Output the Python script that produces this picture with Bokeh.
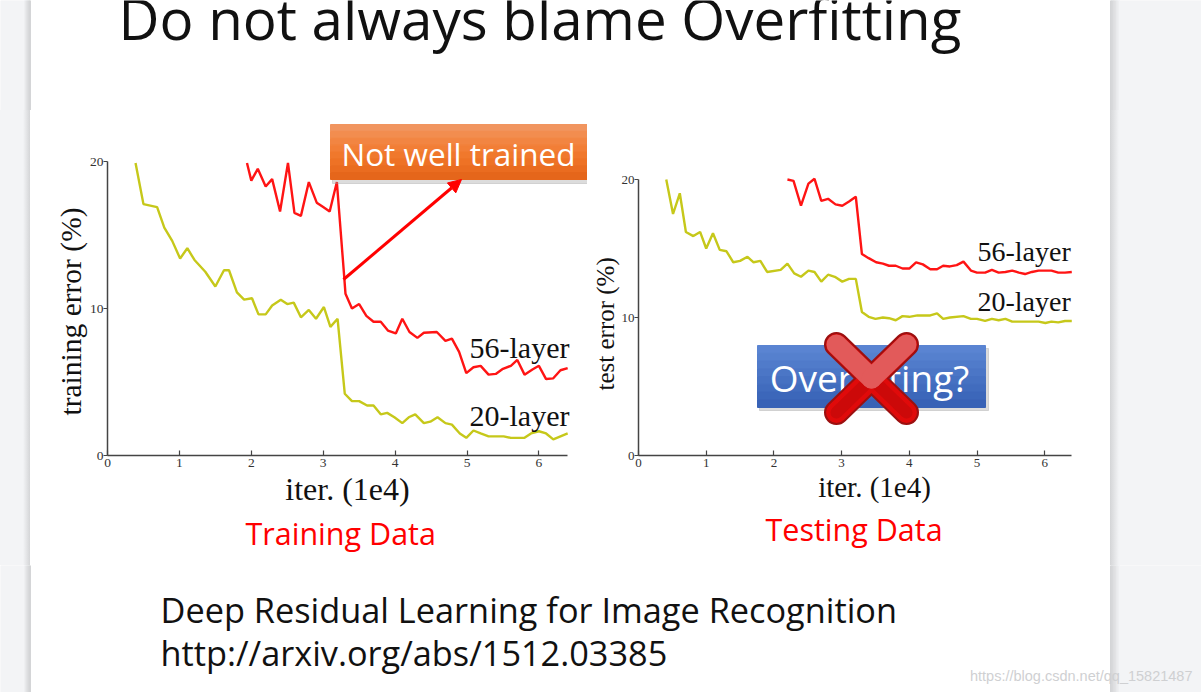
from bokeh.plotting import figure
from bokeh.layouts import column, row
from bokeh.models import Range1d, FixedTicker, Arrow, NormalHead, Title, Div
from bokeh.core.properties import value
from bokeh.embed import file_html
from bokeh.resources import INLINE

# ---------------- data ----------------
x_ticks = [0, 1, 2, 3, 4, 5, 6]
y_ticks = [0, 10, 20]

train20_x = [0.39, 0.50, 0.69, 0.79, 0.90, 1.01, 1.11, 1.21, 1.36, 1.50, 1.62, 1.69, 1.80, 1.90, 2.01, 2.10,
             2.20, 2.29, 2.41, 2.50, 2.59, 2.69, 2.80, 2.90, 3.01, 3.10, 3.20, 3.30, 3.40, 3.50, 3.61, 3.70,
             3.80, 3.89, 3.99, 4.10, 4.19, 4.28, 4.40, 4.49, 4.59, 4.70, 4.79, 4.90, 4.99, 5.09, 5.19, 5.30,
             5.51, 5.61, 5.80, 5.89, 6.00, 6.10, 6.20, 6.30, 6.40]
train20_y = [19.9, 17.1, 16.9, 15.5, 14.6, 13.4, 14.1, 13.3, 12.5, 11.5, 12.6, 12.6, 11.1, 10.6, 10.7, 9.6,
             9.6, 10.2, 10.6, 10.3, 10.4, 9.4, 9.9, 9.3, 10.1, 8.75, 9.3, 4.2, 3.7, 3.7, 3.4, 3.4,
             2.8, 2.9, 2.6, 2.2, 2.6, 2.8, 2.2, 2.3, 2.6, 2.2, 2.1, 1.5, 1.2, 1.7, 1.5, 1.3,
             1.3, 1.2, 1.2, 1.5, 1.65, 1.5, 1.1, 1.3, 1.5]

train56_x = [1.94, 2.00, 2.09, 2.20, 2.29, 2.40, 2.51, 2.60, 2.69, 2.80, 2.91, 3.00, 3.09, 3.19, 3.29, 3.31,
             3.40, 3.50, 3.60, 3.70, 3.80, 3.90, 4.01, 4.10, 4.20, 4.31, 4.40, 4.58, 4.70, 4.79, 4.89, 4.99,
             5.09, 5.19, 5.30, 5.40, 5.50, 5.61, 5.70, 5.80, 5.91, 6.00, 6.10, 6.20, 6.30, 6.40]
train56_y = [19.9, 18.7, 19.5, 18.3, 18.8, 16.6, 19.9, 16.5, 16.3, 18.6, 17.2, 16.9, 16.6, 18.6, 12.3, 11.0,
             10.0, 10.3, 9.5, 9.1, 9.1, 8.5, 8.3, 9.3, 8.4, 8.0, 8.35, 8.4, 7.8, 7.95, 7.05, 5.6,
             6.0, 6.1, 5.5, 5.55, 5.9, 6.1, 6.5, 5.5, 5.85, 6.1, 5.2, 5.25, 5.8, 5.95]

test20_x = [0.41, 0.51, 0.61, 0.70, 0.81, 0.91, 1.00, 1.10, 1.20, 1.30, 1.40, 1.50, 1.61, 1.70, 1.80, 1.90,
            2.10, 2.20, 2.30, 2.40, 2.51, 2.60, 2.70, 2.80, 2.90, 3.01, 3.11, 3.21, 3.30, 3.40, 3.50, 3.61,
            3.70, 3.80, 3.90, 4.00, 4.12, 4.31, 4.41, 4.50, 4.60, 4.80, 4.91, 5.00, 5.12, 5.22, 5.32, 5.42,
            5.52, 5.72, 5.91, 6.01, 6.10, 6.20, 6.30, 6.40]
test20_y = [20.0, 17.5, 19.0, 16.2, 15.9, 16.2, 15.0, 16.1, 14.9, 14.8, 14.0, 14.1, 14.4, 14.0, 14.1, 13.3,
            13.45, 13.9, 13.2, 12.95, 13.4, 13.3, 12.6, 13.1, 12.95, 12.6, 12.8, 12.8, 10.4, 10.05, 9.9, 10.0,
            9.95, 9.8, 10.1, 10.05, 10.15, 10.15, 10.3, 9.9, 10.0, 10.1, 9.9, 9.9, 9.75, 9.9, 9.8, 9.9,
            9.7, 9.7, 9.7, 9.6, 9.7, 9.65, 9.75, 9.75]

test56_x = [2.20, 2.29, 2.40, 2.51, 2.60, 2.70, 2.80, 2.91, 3.01, 3.11, 3.21, 3.30, 3.40, 3.51, 3.61, 3.70,
            3.80, 3.90, 4.00, 4.10, 4.20, 4.31, 4.41, 4.50, 4.60, 4.70, 4.80, 4.91, 5.00, 5.12, 5.22, 5.32,
            5.42, 5.52, 5.62, 5.71, 5.81, 5.91, 6.10, 6.20, 6.30, 6.40]
test56_y = [20.0, 19.9, 18.1, 19.7, 20.05, 18.45, 18.6, 18.2, 18.1, 18.4, 18.75, 14.6, 14.3, 14.0, 13.9, 13.75,
            13.75, 13.55, 13.55, 14.0, 13.85, 13.5, 13.5, 13.75, 13.7, 13.8, 14.05, 13.4, 13.25, 13.25, 13.45, 13.25,
            13.3, 13.4, 13.25, 13.15, 13.3, 13.4, 13.4, 13.25, 13.25, 13.3]

series_names = ["56-layer", "20-layer"]
slide_title = "Do not always blame Overfitting"
captions = ["Training Data", "Testing Data"]
reference = ["Deep Residual Learning for Image Recognition", "http://arxiv.org/abs/1512.03385"]
watermark = "https://blog.csdn.net/qq_15821487"

RED = "#ff1414"
OLIVE = "#c6c81a"
SANS = "Open Sans"
SERIF = "Liberation Serif"
GRAY_BG = "#f3f4f6"
SHADOW_L = ["#eeeff1", "#e8e9eb", "#e2e3e5", "#dddee0", "#d8d9db", "#d4d5d7"]

ROW_TOP = 110
ROW_BOT = 565
ROW_H = ROW_BOT - ROW_TOP
FRAME_BOT = 455
C1_W = 557
C2_LEFT = 30 + C1_W


def blank(width, height, xr, yr, border="white"):
    p = figure(width=width, height=height, x_range=Range1d(*xr), y_range=Range1d(*yr),
               x_axis_type=None, y_axis_type=None, toolbar_location=None, output_backend="svg",
               min_border=0, outline_line_color=None, title=None)
    p.grid.visible = False
    p.background_fill_color = "white"
    p.border_fill_color = border
    return p


def strips(p, y0, y1):
    p.quad(left=0, right=24, top=y0, bottom=y1, color=GRAY_BG)
    for i, c in enumerate(SHADOW_L):
        p.quad(left=24 + i, right=25 + i, top=y0, bottom=y1, color=c)
    for i, c in enumerate(reversed(SHADOW_L)):
        p.quad(left=1110 + 1.5 * i, right=1111.5 + 1.5 * i, top=y0, bottom=y1, color=c)
    p.quad(left=1119, right=1201, top=y0, bottom=y1, color=GRAY_BG)


# ---------------- top (title) ----------------
top = blank(1201, ROW_TOP, (0, 1201), (ROW_TOP, 0))
strips(top, 0, ROW_TOP)
top.text(x=[118], y=[17.5], text=[slide_title], text_font=value(SANS), text_font_size="56.5px",
         text_color="#111111", text_baseline="middle", text_align="left")

# ---------------- side strips for chart row ----------------
grayL = Div(text="", width=30, height=ROW_H, margin=(0, 0, 0, 0),
            styles={"background": "linear-gradient(to right, #f3f4f6 0px, #f3f4f6 23px, #d4d5d7 30px)"})
grayR = Div(text="", width=91, height=ROW_H, margin=(0, 0, 0, 0),
            styles={"background": "linear-gradient(to right, #d4d5d7 0px, #f3f4f6 9px, #f3f4f6 91px)"})


def chart(width, left_border, x_end, y_end, xlabel, ylabel, xl_size, yl_size, yl_offset, caption, cap_offset,
          tick_size):
    p = figure(width=width, height=ROW_H, x_range=Range1d(0, x_end), y_range=Range1d(0, y_end),
               toolbar_location=None, output_backend="svg", min_border_left=left_border,
               min_border_right=0, min_border_top=0, min_border_bottom=ROW_BOT - FRAME_BOT,
               outline_line_color=None, title=None)
    p.grid.visible = False
    p.background_fill_color = "white"
    p.border_fill_color = "white"
    p.xaxis.ticker = FixedTicker(ticks=x_ticks)
    p.yaxis.ticker = FixedTicker(ticks=y_ticks)
    p.xaxis.bounds = (0, 6.4)
    p.yaxis.bounds = (0, 20)
    for ax in (p.xaxis, p.yaxis):
        ax.minor_tick_line_color = None
        ax.axis_line_color = "#444444"
        ax.axis_line_width = 1.5
        ax.major_tick_line_color = "#444444"
        ax.major_tick_line_width = 1.2
        ax.major_label_text_font = SERIF
        ax.major_label_text_font_size = tick_size
        ax.major_label_text_color = "#333333"
        ax.axis_label_text_font = SERIF
        ax.axis_label_text_font_style = "normal"
        ax.axis_label_text_color = "#111111"
    p.xaxis.major_tick_in = 5
    p.xaxis.major_tick_out = 0
    p.xaxis.major_label_standoff = 3
    p.xaxis.axis_label = xlabel
    p.xaxis.axis_label_text_font_size = xl_size
    p.xaxis.axis_label_standoff = 1
    p.yaxis.major_tick_in = 0
    p.yaxis.major_tick_out = 4
    p.yaxis.major_label_standoff = 0
    p.yaxis.axis_label_standoff = 0
    p.add_layout(Title(text=ylabel, align="left", offset=yl_offset, text_font=SERIF,
                       text_font_style="normal", text_font_size=yl_size, text_color="#111111",
                       standoff=0), "left")
    p.add_layout(Title(text=caption, align="left", offset=cap_offset, text_font=SANS,
                       text_font_style="normal", text_font_size="30.5px", text_color="#ff0000",
                       standoff=0), "below")
    return p


# ---------------- chart 1: training error ----------------
c1 = chart(C1_W, 107 - 30, (30 + C1_W - 107) / 71.9, (FRAME_BOT - ROW_TOP) / 14.7, "iter. (1e4)",
           "training error (%)", "32px", "29.5px", FRAME_BOT - 415, captions[0], 245 - 107, "13.5px")


def c1x(px):
    return (px - 107) / 71.9


def c1y(py):
    return (FRAME_BOT - py) / 14.7


c1.line(train56_x, train56_y, line_color=RED, line_width=2.4)
c1.line(train20_x, train20_y, line_color=OLIVE, line_width=2.4)
c1.text(x=[c1x(469), c1x(469)], y=[c1y(347), c1y(415)], text=series_names, text_font=value(SERIF),
        text_font_size="30px", text_color="#111111", text_baseline="middle", text_align="left")

# orange "Not well trained" box with shadow and gradient bands
c1.quad(left=c1x(332), right=c1x(592), top=c1y(127), bottom=c1y(183), color="#9a9a9a", alpha=0.35)
orange = ["#f1955f", "#f28d4f", "#f28542", "#f27e36", "#f0782c", "#ee7225", "#ea6c20", "#e5661b"]
nb = len(orange)
for i, c in enumerate(orange):
    c1.quad(left=c1x(330), right=c1x(589), top=c1y(124 + 55 * i / nb), bottom=c1y(124 + 55 * (i + 1) / nb),
            color=c)
c1.text(x=[c1x(458)], y=[c1y(153)], text=["Not well trained"], text_font=value(SANS), text_font_size="31.5px",
        text_color="white", text_baseline="middle", text_align="center")
c1.add_layout(Arrow(end=NormalHead(size=13, fill_color="#ff0000", line_color="#ff0000"),
                    x_start=c1x(343), y_start=c1y(279), x_end=c1x(461), y_end=c1y(179),
                    line_color="#ff0000", line_width=3))

# ---------------- chart 2: test error ----------------
c2 = chart(1110 - C2_LEFT, 638 - C2_LEFT, 472 / 67.7, (FRAME_BOT - ROW_TOP) / 13.8, "iter. (1e4)",
           "test error (%)", "29px", "25px", FRAME_BOT - 390, captions[1], 765 - 638, "13px")


def c2x(px):
    return (px - 638) / 67.7


def c2y(py):
    return (FRAME_BOT - py) / 13.8


c2.line(test56_x, test56_y, line_color=RED, line_width=2.4)
c2.line(test20_x, test20_y, line_color=OLIVE, line_width=2.4)
c2.text(x=[c2x(977), c2x(977)], y=[c2y(251), c2y(301)], text=series_names, text_font=value(SERIF),
        text_font_size="28px", text_color="#111111", text_baseline="middle", text_align="left")

# blue "Overfitting?" box
c2.quad(left=c2x(759), right=c2x(988), top=c2y(348), bottom=c2y(410), color="#9a9a9a", alpha=0.35)
blue = ["#5a84d2", "#5580ce", "#507bca", "#4b76c6", "#4671c2", "#416cbe", "#3c67ba", "#3862b6"]
nb = len(blue)
for i, c in enumerate(blue):
    c2.quad(left=c2x(757), right=c2x(985), top=c2y(345 + 62 * i / nb), bottom=c2y(345 + 62 * (i + 1) / nb),
            color=c)
c2.text(x=[c2x(869)], y=[c2y(377)], text=["Overfitting?"], text_font=value(SANS), text_font_size="37px",
        text_color="white", text_baseline="middle", text_align="center")

# red X
xl, xr = c2x(836), c2x(906)
yt, yb = c2y(344), c2y(412)
cx, cy = c2x(871), c2y(378)
c2.segment(x0=[xl, xr], y0=[yt, yt], x1=[xr, xl], y1=[yb, yb], line_color="#9c1010",
           line_width=25, line_cap="round")
c2.segment(x0=[xl, xr], y0=[yt, yt], x1=[xr, xl], y1=[yb, yb], line_color="#e00a0a",
           line_width=21, line_cap="round")
c2.segment(x0=[cx, cx], y0=[cy, cy], x1=[xr, xl], y1=[yb, yb], line_color="#b80808",
           line_width=12, line_cap="round", line_alpha=0.5)
c2.segment(x0=[xl, xr], y0=[yt, yt], x1=[cx, cx], y1=[cy, cy], line_color="#e25a5a",
           line_width=20, line_cap="round")

# ---------------- bottom ----------------
bottom = blank(1201, 692 - ROW_BOT, (0, 1201), (692, ROW_BOT))
strips(bottom, ROW_BOT, 692)
bottom.text(x=[160, 160], y=[609, 652], text=reference, text_font=value(SANS), text_font_size="34.3px",
            text_color="#111111", text_baseline="middle", text_align="left")
bottom.text(x=[1192], y=[675], text=[watermark], text_font=value("Liberation Sans"), text_font_size="14.5px",
            text_color="#cfd0d2", text_baseline="middle", text_align="right")

layout = column(top, row(grayL, c1, c2, grayR), bottom)
layout.spacing = 0

open("out.html", "w").write(file_html(layout, INLINE))
